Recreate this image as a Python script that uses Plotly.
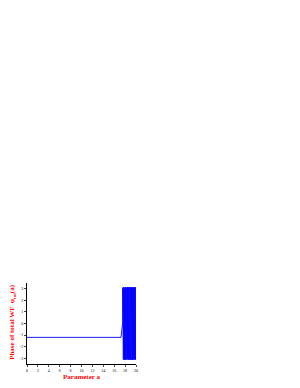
import plotly.graph_objects as go

# Flat part and the rise
x_head = [0.0, 17.25, 17.56]
y_head = [-1.2, -1.2, 0.1]

# Dense wrapped-phase oscillation
x_osc = [17.56,17.60,17.64,17.68,17.72,17.76,17.80,17.84,17.88,17.92,17.96,18.00,
         18.04,18.08,18.12,18.16,18.20,18.24,18.28,18.32,18.36,18.40,18.44,18.48,
         18.52,18.56,18.60,18.64,18.68,18.72,18.76,18.80,18.84,18.88,18.92,18.96,
         19.00,19.04,19.08,19.12,19.16,19.20,19.24,19.28,19.32,19.36,19.40,19.44,
         19.48,19.52,19.56,19.60,19.64,19.68,19.72,19.76,19.80,19.84,19.88,19.92,
         19.96,20.00]
y_osc = [3.1,-3.1,3.05,-3.12,3.14,-2.9,3.1,-3.14,2.95,-3.1,
         3.12,-3.05,3.14,-3.14,3.0,-3.1,3.13,-2.95,3.1,-3.14,
         3.08,-3.1,3.14,-3.0,2.98,-3.13,3.1,-3.14,3.14,-3.05,
         3.0,-3.12,3.14,-3.1,3.06,-3.14,3.12,-2.98,3.1,-3.14,
         3.14,-3.08,3.02,-3.12,3.1,-3.14,3.14,-3.0,3.08,-3.1,
         3.13,-3.14,2.96,-3.1,3.14,-3.06,3.1,-3.14,3.0,-3.12,
         3.14,-3.1]

x_ticks = [0, 2, 4, 6, 8, 10, 12, 14, 16, 18, 20]
y_ticks = [-3, -2, -1, 0, 1, 2, 3]

x_title = "Parameter a"
y_title = "Phase of total WF  φ<sub>tot</sub>(a)"

x_all = x_head + x_osc
y_all = y_head + y_osc

fig = go.Figure()
fig.add_trace(go.Scatter(x=x_all, y=y_all, mode="lines",
                         line=dict(color="#0000ff", width=0.9),
                         showlegend=False))

font_serif = "Liberation Serif, Times New Roman, serif"
fig.update_layout(
    width=292, height=380,
    margin=dict(l=19, r=164, t=275, b=24, autoexpand=False),
    paper_bgcolor="white", plot_bgcolor="white",
    font=dict(family=font_serif, color="black", size=4),
)
fig.update_xaxes(range=[0, 20], tickvals=x_ticks, showline=True, linecolor="black",
                 linewidth=0.8, ticks="outside", ticklen=2, tickwidth=0.6,
                 showgrid=False, zeroline=False, tickfont=dict(size=4), automargin=False)
fig.update_yaxes(range=[-3.5, 3.5], tickvals=y_ticks, showline=True, linecolor="black",
                 linewidth=0.8, ticks="outside", ticklen=2, tickwidth=0.6,
                 showgrid=False, zeroline=False, tickfont=dict(size=4), automargin=False)

fig.add_annotation(text="<b>" + x_title + "</b>", xref="paper", yref="paper",
                   x=0.5, y=-0.16, xanchor="center", yanchor="middle", showarrow=False,
                   font=dict(size=7, color="#ff0000", family=font_serif))
fig.add_annotation(text="<b>" + y_title + "</b>", xref="paper", yref="paper",
                   x=-0.138, y=0.52, xanchor="center", yanchor="middle", showarrow=False,
                   textangle=-90,
                   font=dict(size=7, color="#ff0000", family=font_serif))

fig.write_html("out.html")
